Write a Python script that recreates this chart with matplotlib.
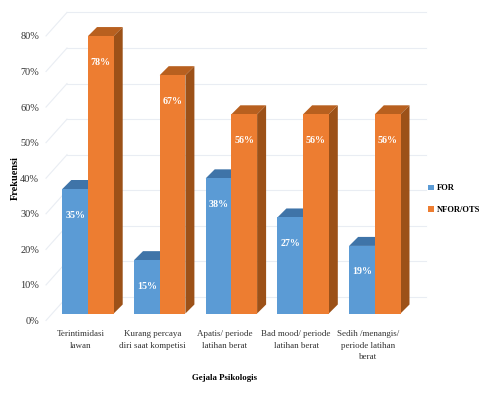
import matplotlib
matplotlib.use('Agg')
import matplotlib.pyplot as plt
from matplotlib.patches import Polygon
from matplotlib.transforms import ScaledTranslation

plt.rcParams['font.family'] = ['Liberation Serif', 'DejaVu Serif']

categories = ['Terintimidasi\nlawan', 'Kurang percaya\ndiri saat kompetisi', 'Apatis/ periode\nlatihan berat',
              'Bad mood/ periode\nlatihan berat', 'Sedih /menangis/\nperiode latihan\nberat']
for_values = [35, 15, 38, 27, 19]
nfor_values = [78, 67, 56, 56, 56]
yticks = [0, 10, 20, 30, 40, 50, 60, 70, 80]

W, H = 495, 394
PX_X = 71.7   # pixels per category
PX_Y = 3.557  # pixels per percent
X0 = 88       # pixel of first category
Y0 = 313.5    # pixel of 0%
LEFT, RIGHT = 46, 426

fig = plt.figure(figsize=(W / 100, H / 100), dpi=100)
top_px = Y0 - 80 * PX_Y
ax = fig.add_axes([LEFT / W, 1 - Y0 / H, (RIGHT - LEFT) / W, (Y0 - top_px) / H])
ax.set_xlim((LEFT - X0) / PX_X, (RIGHT - X0) / PX_X)
ax.set_ylim(0, 80)
ax.patch.set_visible(False)
for s in ax.spines.values():
    s.set_visible(False)

dx = 9 / PX_X
dy = 9 / PX_Y
width = 25.7 / PX_X
GRID = '#e9edf3'

# walls of the 3d box
wall_l = (LEFT - X0) / PX_X
wall_b = (LEFT + 21 - X0) / PX_X
wall_r = (RIGHT - X0) / PX_X
for v in yticks:
    ax.plot([wall_l, wall_b], [v - 7 / PX_Y, v + 16.5 / PX_Y], color=GRID, lw=0.8, clip_on=False, zorder=1)
    ax.plot([wall_b, wall_r], [v + 16.5 / PX_Y, v + 16.5 / PX_Y], color=GRID, lw=0.8, clip_on=False, zorder=1)


def draw_bars(offset, values, front, top, side, name, z):
    x = [i + offset for i in range(len(values))]
    ax.bar(x, values, width=width, align='edge', color=front, label=name, zorder=z + 1)
    for xi, v in zip(x, values):
        ax.add_patch(Polygon([(xi, v), (xi + width, v), (xi + width + dx, v + dy), (xi + dx, v + dy)],
                             color=top, lw=0, zorder=z, clip_on=False))
        ax.add_patch(Polygon([(xi + width, 0), (xi + width + dx, dy), (xi + width + dx, v + dy), (xi + width, v)],
                             color=side, lw=0, zorder=z, clip_on=False))
        ax.annotate(f'{v}%', (xi + width / 2, v), xytext=(0, -26 * 0.72), textcoords='offset points',
                    ha='center', va='center', color='white', fontsize=7.2, fontweight='bold',
                    zorder=z + 2, annotation_clip=False)


draw_bars(-width, for_values, '#5b9bd5', '#3f74a8', '#3f74a8', 'FOR', 3)
draw_bars(0, nfor_values, '#ed7d31', '#b8601f', '#9c5118', 'NFOR/OTS', 6)

ax.set_yticks(yticks)
ax.set_yticklabels([f'{v}%' for v in yticks], fontsize=7.4, color='#333333')
ax.tick_params(axis='y', length=0, pad=5)
shift_y = ScaledTranslation(0, -7 / 100, fig.dpi_scale_trans)
for t in ax.get_yticklabels():
    t.set_transform(t.get_transform() + shift_y)

ax.set_xticks(range(len(categories)))
ax.set_xticklabels(categories, fontsize=6.5, color='#333333', linespacing=1.6)
ax.tick_params(axis='x', length=0, pad=12)
shift_x = ScaledTranslation(-7 / 100, 0, fig.dpi_scale_trans)
for t in ax.get_xticklabels():
    t.set_transform(t.get_transform() + shift_x)

fig.text(224 / W, 1 - 378 / H, 'Gejala Psikologis', ha='center', va='center', fontsize=6.3, fontweight='bold')
fig.text(15 / W, 1 - 178 / H, 'Frekuensi', rotation=90, ha='center', va='center', fontsize=7.4, fontweight='bold')

ax.legend(loc='center left', bbox_to_anchor=(428 / W, 1 - 199 / H), bbox_transform=fig.transFigure,
          frameon=False, ncol=1, handlelength=0.7, handleheight=0.7, handletextpad=0.35,
          labelspacing=1.55, borderpad=0, borderaxespad=0,
          prop={'size': 6.1, 'weight': 'bold'})

fig.savefig('out.png', dpi=100)
